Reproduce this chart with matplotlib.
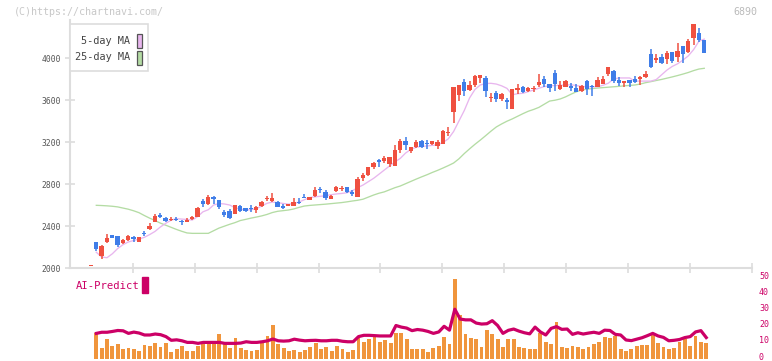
import numpy as np
import matplotlib.pyplot as plt
from matplotlib.patches import Rectangle
from matplotlib.transforms import ScaledTranslation

# --- daily candles (index 0 = first candle on the chart) ---
opens = [2018, 2248, 2111, 2248, 2314, 2305, 2238, 2267, 2295, 2250,
         2336, 2371, 2441, 2505, 2476, 2454, 2470, 2448, 2441, 2470,
         2489, 2638, 2606, 2673, 2645, 2533, 2546, 2517, 2587, 2571,
         2568, 2549, 2587, 2654, 2641, 2628, 2594, 2590, 2594, 2632,
         2679, 2651, 2689, 2752, 2721, 2660, 2733, 2752, 2768, 2721,
         2679, 2857, 2883, 2962, 3025, 3019, 2994, 2975, 3124, 3210,
         3114, 3152, 3214, 3194, 3178, 3162, 3184, 3283, 3486, 3648,
         3770, 3695, 3743, 3813, 3813, 3619, 3667, 3610, 3600, 3511,
         3700, 3721, 3683, 3705, 3743, 3800, 3749, 3854, 3702, 3727,
         3738, 3710, 3686, 3778, 3733, 3721, 3752, 3848, 3873, 3787,
         3765, 3790, 3800, 3800, 3816, 4038, 3984, 4006, 3987, 4060,
         4013, 4114, 4060, 4187, 4241, 4171]
highs = [2032, 2250, 2219, 2324, 2316, 2308, 2276, 2314, 2305, 2295,
         2355, 2425, 2514, 2524, 2486, 2486, 2486, 2460, 2476, 2499,
         2578, 2654, 2695, 2686, 2648, 2549, 2565, 2603, 2597, 2575,
         2597, 2587, 2638, 2686, 2714, 2638, 2606, 2610, 2670, 2667,
         2708, 2680, 2771, 2768, 2746, 2695, 2778, 2781, 2775, 2743,
         2864, 2908, 2964, 3013, 3035, 3067, 3054, 3171, 3229, 3248,
         3149, 3219, 3222, 3219, 3213, 3222, 3311, 3340, 3724, 3743,
         3800, 3781, 3838, 3838, 3829, 3670, 3689, 3667, 3619, 3702,
         3749, 3730, 3720, 3730, 3848, 3833, 3749, 3886, 3778, 3790,
         3762, 3749, 3740, 3790, 3743, 3816, 3829, 3919, 3886, 3816,
         3781, 3790, 3829, 3829, 3876, 4086, 4038, 4038, 4067, 4060,
         4146, 4114, 4178, 4324, 4283, 4171]
lows = [2018, 2162, 2089, 2235, 2287, 2203, 2229, 2257, 2250, 2248,
        2308, 2362, 2441, 2473, 2438, 2448, 2444, 2412, 2435, 2454,
        2486, 2578, 2600, 2606, 2559, 2483, 2470, 2514, 2533, 2536,
        2533, 2521, 2581, 2635, 2628, 2581, 2562, 2587, 2594, 2606,
        2662, 2648, 2679, 2714, 2648, 2660, 2727, 2736, 2715, 2686,
        2679, 2832, 2876, 2940, 2965, 3003, 2965, 2975, 3098, 3124,
        3098, 3146, 3146, 3130, 3168, 3133, 3184, 3254, 3384, 3590,
        3641, 3686, 3724, 3759, 3626, 3584, 3584, 3590, 3514, 3511,
        3660, 3670, 3676, 3676, 3721, 3721, 3673, 3689, 3692, 3720,
        3689, 3673, 3680, 3648, 3638, 3721, 3752, 3829, 3759, 3737,
        3727, 3727, 3765, 3740, 3806, 3902, 3949, 3940, 3940, 3949,
        3965, 3949, 4044, 4124, 4156, 4051]
closes = [2032, 2184, 2210, 2289, 2289, 2219, 2267, 2305, 2276, 2292,
          2327, 2403, 2495, 2489, 2450, 2470, 2454, 2435, 2460, 2483,
          2571, 2612, 2673, 2654, 2578, 2505, 2473, 2597, 2543, 2540,
          2559, 2581, 2628, 2667, 2664, 2584, 2575, 2606, 2632, 2619,
          2667, 2676, 2743, 2740, 2670, 2689, 2771, 2765, 2721, 2708,
          2848, 2886, 2964, 3003, 3006, 3051, 3054, 3124, 3210, 3171,
          3149, 3200, 3152, 3181, 3213, 3203, 3305, 3295, 3724, 3743,
          3689, 3743, 3832, 3838, 3689, 3632, 3610, 3660, 3584, 3702,
          3710, 3676, 3717, 3717, 3771, 3749, 3717, 3749, 3740, 3781,
          3710, 3679, 3733, 3702, 3721, 3790, 3800, 3910, 3778, 3765,
          3781, 3759, 3775, 3816, 3848, 3917, 3997, 3956, 4051, 3971,
          4067, 4038, 4162, 4324, 4167, 4051]

# moving averages, from candle 1 onwards
ma5 = [2150, 2105, 2098, 2135, 2185, 2222, 2248, 2262, 2275, 2292,
       2318, 2348, 2390, 2425, 2455, 2470, 2466, 2462, 2457, 2490,
       2535, 2555, 2600, 2614, 2610, 2600, 2575, 2560, 2553, 2555,
       2565, 2590, 2616, 2628, 2622, 2615, 2608, 2612, 2628, 2650,
       2670, 2678, 2683, 2688, 2698, 2705, 2710, 2717, 2735, 2765,
       2790, 2822, 2854, 2893, 2933, 2972, 3010, 3044, 3095, 3130,
       3150, 3158, 3162, 3168, 3173, 3195, 3230, 3300, 3400, 3500,
       3620, 3700, 3743, 3757, 3759, 3752, 3735, 3711, 3650, 3660,
       3664, 3680, 3695, 3712, 3728, 3735, 3738, 3740, 3743, 3745,
       3738, 3730, 3726, 3726, 3726, 3740, 3760, 3800, 3810, 3810,
       3810, 3780, 3780, 3780, 3780, 3795, 3840, 3885, 3920, 3945,
       3980, 4020, 4080, 4160, 4180]
ma25 = [2597, 2595, 2592, 2588, 2582, 2571, 2560, 2545, 2527, 2500,
        2475, 2452, 2428, 2408, 2388, 2368, 2350, 2334, 2330, 2330,
        2330, 2330, 2355, 2380, 2398, 2416, 2432, 2452, 2463, 2475,
        2485, 2496, 2510, 2528, 2540, 2546, 2552, 2562, 2577, 2590,
        2596, 2600, 2604, 2608, 2613, 2618, 2623, 2630, 2638, 2645,
        2655, 2675, 2695, 2712, 2725, 2745, 2765, 2781, 2803, 2825,
        2847, 2868, 2888, 2910, 2930, 2952, 2975, 3000, 3040, 3090,
        3135, 3178, 3218, 3260, 3303, 3343, 3372, 3398, 3420, 3445,
        3470, 3493, 3510, 3530, 3560, 3590, 3598, 3610, 3630, 3655,
        3678, 3695, 3703, 3709, 3714, 3718, 3722, 3726, 3730, 3735,
        3739, 3743, 3752, 3765, 3775, 3786, 3796, 3808, 3820, 3833,
        3847, 3862, 3880, 3895, 3902]

# AI-Predict panel, from candle 1 onwards
ai_bars = [15.6, 6.3, 11.9, 7.8, 9.0, 5.9, 6.3, 5.7, 4.5, 8.4,
           7.8, 9.6, 7.1, 9.6, 4.0, 5.9, 7.8, 4.7, 4.7, 8.0,
           9.6, 9.8, 9.0, 15.2, 8.7, 6.5, 12.7, 6.5, 5.3, 4.7,
           5.3, 9.8, 14.2, 20.8, 9.0, 6.5, 4.7, 5.3, 4.0, 5.3,
           7.1, 9.6, 5.9, 7.1, 4.7, 7.8, 5.9, 4.0, 5.3, 13.4,
           10.2, 12.1, 13.4, 10.2, 11.5, 9.6, 15.8, 15.8, 12.1, 5.9,
           5.9, 5.9, 4.0, 6.5, 7.8, 13.4, 9.0, 49.4, 27.0, 15.2,
           12.7, 12.1, 7.1, 17.7, 15.2, 12.1, 7.2, 12.1, 12.1, 7.1,
           6.5, 5.9, 5.9, 15.8, 10.2, 9.0, 22.7, 7.1, 6.5, 7.8,
           7.1, 5.9, 7.1, 9.0, 10.2, 13.4, 12.7, 14.0, 5.9, 4.7,
           5.9, 7.8, 8.4, 8.4, 15.2, 9.6, 7.1, 5.9, 6.5, 10.2,
           12.1, 7.8, 14.0, 10.2, 9.6]
ai_line = [15.6, 16.3, 16.3, 16.8, 17.4, 17.2, 15.6, 16.4, 15.8, 14.6,
           14.6, 15.2, 14.8, 13.6, 11.3, 11.6, 11.0, 10.0, 10.0, 9.4,
           10.0, 10.0, 10.0, 10.0, 9.4, 9.4, 9.4, 9.6, 10.4, 10.0,
           10.0, 10.4, 11.0, 12.1, 11.0, 10.8, 11.0, 12.0, 11.4, 11.0,
           11.2, 11.3, 11.0, 11.0, 11.3, 11.3, 10.7, 10.4, 10.4, 13.6,
           14.4, 14.4, 14.2, 14.0, 14.0, 14.0, 20.5, 19.5, 18.9, 17.3,
           18.0, 17.6, 16.8, 15.6, 16.5, 20.0, 17.6, 30.6, 24.5, 24.0,
           24.0, 22.0, 21.4, 21.6, 23.5, 20.5, 15.6, 17.5, 18.3, 17.0,
           16.0, 15.3, 19.5, 16.5, 14.6, 18.7, 19.8, 18.1, 18.3, 15.0,
           16.0, 15.2, 15.8, 16.3, 15.6, 17.6, 17.4, 15.0, 14.6, 11.5,
           11.1, 12.0, 12.9, 14.2, 15.6, 14.0, 13.1, 11.0, 11.3, 11.8,
           13.0, 13.6, 16.5, 17.3, 13.0]

date_labels = ['5/1', '5/19', '6/2', '6/16', '6/30', '7/14', '7/29',
               '8/13', '8/27', '9/10', '9/26']
date_idx = [15, 25, 35, 45, 55, 65, 75, 85, 95, 105, 115]
price_ticks = [2000, 2400, 2800, 3200, 3600, 4000]
ai_ticks = [0, 10, 20, 30, 40, 50]

RED = '#ef5040'
BLUE = '#3f7de8'
MAGENTA = '#cc0066'
GRID = '#dddddd'
MONO = 'DejaVu Sans Mono'
W, H = 772, 361


def draw():
    fig = plt.figure(figsize=(W / 100, H / 100), dpi=100)
    ax = fig.add_axes([70 / W, 1 - 268 / H, 682 / W, 248 / H])
    ax2 = fig.add_axes([70 / W, 1 - 358.5 / H, 682 / W, 80.5 / H])

    idx = np.arange(len(opens))
    o = np.array(opens)
    c = np.array(closes)
    colors = [RED if cc >= oo else BLUE for oo, cc in zip(o, c)]
    bottom = np.minimum(o, c)
    height = np.maximum(np.abs(c - o), 10)

    # moving averages behind the candles
    ax.plot(idx[1:], ma25, color='#b4dca4', lw=0.95, zorder=1)
    ax.plot(idx[1:], ma5, color='#e8b6ee', lw=0.95, zorder=1)

    ax.vlines(idx, lows, highs, colors=colors, lw=1.1, zorder=2)
    ax.bar(idx, height, bottom=bottom, width=0.8, color=colors, zorder=3)

    x0, x1 = -3.93, 123.55
    ax.set_xlim(x0, x1)
    ax.set_ylim(2000, 4362)
    for s in ['top', 'right']:
        ax.spines[s].set_visible(False)
    for s in ['left', 'bottom']:
        ax.spines[s].set_color(GRID)
        ax.spines[s].set_linewidth(1.5)

    ax.set_yticks(price_ticks)
    ax.set_yticklabels([str(p) for p in price_ticks], fontsize=5.8,
                       family=MONO, color='#555555')
    ax.tick_params(axis='y', direction='inout', length=6.5, width=1.2,
                   color=GRID, pad=3.5)

    # tick marks on their own grid, date labels at fixed trading days
    ax.set_xticks(np.arange(7.85, 124, 11.61))
    ax.set_xticklabels([])
    ax.tick_params(axis='x', which='major', direction='inout', length=6.5,
                   width=1.2, color=GRID)
    ax.set_xticks(date_idx, minor=True)
    ax.set_xticklabels(date_labels, minor=True, fontsize=6.5,
                       family=MONO, color='#555555')
    ax.tick_params(axis='x', which='minor', length=0, pad=7)

    # AI-Predict panel
    ax2.bar(idx[1:], ai_bars, width=0.72, color='#f0953c', zorder=1)
    ax2.plot(idx[1:], ai_line, color=MAGENTA, lw=2.3, zorder=2)
    ax2.set_xlim(x0, x1)
    ax2.set_ylim(0, 50)
    for s in ax2.spines.values():
        s.set_visible(False)
    ax2.set_xticks([])
    ax2.yaxis.tick_right()
    ax2.set_yticks(ai_ticks)
    ax2.set_yticklabels([str(v) for v in ai_ticks], fontsize=6,
                        family=MONO, color=MAGENTA)
    ax2.tick_params(axis='y', length=0, pad=5)
    # nudge right labels up a touch so "0" stays inside the image
    lift = ScaledTranslation(0, 2.5 / 100, fig.dpi_scale_trans)
    for lab in ax2.get_yticklabels():
        lab.set_transform(lab.get_transform() + lift)

    fig.text(76 / W, 1 - 286 / H, 'AI-Predict', fontsize=7.6, family=MONO,
             color=MAGENTA, va='center', ha='left')
    fig.add_artist(Rectangle((142 / W, 1 - 293 / H), 6 / W, 16 / H,
                             transform=fig.transFigure, color=MAGENTA))

    # legend box
    fig.add_artist(Rectangle((70 / W, 1 - 71 / H), 78 / W, 47 / H,
                             transform=fig.transFigure, facecolor='white',
                             edgecolor=GRID, lw=1.2, zorder=5))
    for y, lab, col in [(40.5, '5-day MA', '#e8b6ee'),
                        (57.5, '25-day MA', '#b4dca4')]:
        fig.text(130 / W, 1 - y / H, lab, fontsize=7.4, family=MONO,
                 color='#444444', ha='right', va='center', zorder=6)
        fig.add_artist(Rectangle((136.5 / W, 1 - (y + 7.5) / H), 5.5 / W,
                                 14.5 / H, transform=fig.transFigure,
                                 facecolor=col, edgecolor='#555555',
                                 lw=0.9, zorder=6))

    fig.text(14 / W, 1 - 12 / H, '(C)https://chartnavi.com/', fontsize=7.2,
             family=MONO, color='#c8c8c8', va='center', ha='left')
    fig.text(757 / W, 1 - 12 / H, '6890', fontsize=7.2, family=MONO,
             color='#bbbbbb', va='center', ha='right')

    fig.savefig('out.png', dpi=100)


if __name__ == '__main__':
    draw()
